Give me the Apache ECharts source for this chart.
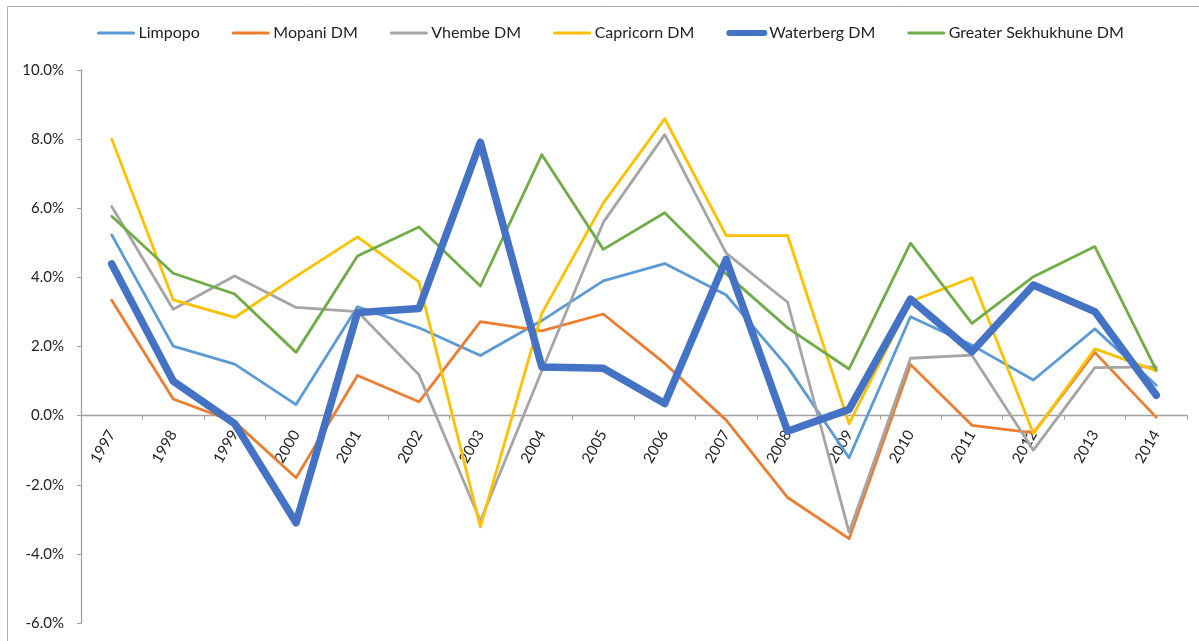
<!DOCTYPE html>
<html>
<head>
<meta charset="utf-8">
<script src="https://cdn.jsdelivr.net/npm/echarts@6/dist/echarts.min.js"></script>
<style>
  html, body { margin: 0; padding: 0; background: #fff; }
  #chartBox { width: 1199px; height: 641px; }
</style>
</head>
<body>
<div id="chartBox"></div>
<script>
// years on the x axis
const years = ['1997', '1998', '1999', '2000', '2001', '2002', '2003', '2004', '2005',
  '2006', '2007', '2008', '2009', '2010', '2011', '2012', '2013', '2014'];

// growth rates, in percent
const limpopo =    [5.23, 2.01, 1.49, 0.32, 3.15, 2.54, 1.74, 2.75, 3.90, 4.40, 3.49, 1.41, -1.22, 2.86, 2.04, 1.03, 2.51, 0.88];
const mopani =     [3.34, 0.48, -0.18, -1.80, 1.16, 0.40, 2.72, 2.45, 2.94, 1.51, -0.13, -2.37, -3.56, 1.48, -0.28, -0.50, 1.83, -0.05];
const vhembe =     [6.05, 3.08, 4.04, 3.13, 3.01, 1.18, -3.05, 1.30, 5.59, 8.13, 4.70, 3.28, -3.37, 1.66, 1.75, -1.00, 1.39, 1.41];
const capricorn =  [8.00, 3.35, 2.84, 4.03, 5.17, 3.87, -3.22, 2.96, 6.15, 8.59, 5.21, 5.21, -0.23, 3.30, 3.99, -0.52, 1.93, 1.30];
const waterberg =  [4.39, 1.00, -0.23, -3.10, 2.98, 3.10, 7.91, 1.41, 1.37, 0.35, 4.52, -0.45, 0.18, 3.37, 1.85, 3.78, 3.01, 0.59];
const sekhukhune = [5.77, 4.12, 3.52, 1.83, 4.62, 5.46, 3.75, 7.55, 4.81, 5.87, 4.10, 2.54, 1.35, 4.99, 2.67, 4.02, 4.89, 1.32];

const seriesNames = ['Limpopo', 'Mopani DM', 'Vhembe DM', 'Capricorn DM', 'Waterberg DM', 'Greater Sekhukhune DM'];
const seriesData = [limpopo, mopani, vhembe, capricorn, waterberg, sekhukhune];
const colors = ['#5B9BD5', '#ED7D31', '#A5A5A5', '#FFC000', '#4472C4', '#70AD47'];
const widths = [2.8, 2.8, 2.8, 2.8, 7.5, 2.8];

const yMin = -6, yMax = 10;
const gridTop = 70, gridBottom = 18, chartH = 641;
// move the category axis up to the 0% line
const plotH = chartH - gridTop - gridBottom;
const zeroOffset = plotH * (0 - yMin) / (yMax - yMin);

const fontName = 'Lato, "Liberation Sans", sans-serif';

var myChart = echarts.init(document.getElementById('chartBox'));

myChart.setOption({
  animation: false,
  color: colors,
  // chart area border, like the Excel frame
  graphic: [{
    type: 'rect',
    shape: { x: 7.5, y: 6.5, width: 1300, height: 800 },
    style: { fill: 'none', stroke: '#B0B0B0', lineWidth: 1 },
    silent: true
  }],
  legend: {
    top: 20,
    left: 92,
    itemWidth: 35,
    itemHeight: 14,
    itemGap: 32,
    itemStyle: { opacity: 0 },
    textStyle: { fontFamily: fontName, fontSize: 16, color: '#222' },
    data: seriesNames.map(function (name, i) {
      return { name: name, lineStyle: { width: i === 4 ? 6 : 3, cap: 'round' } };
    })
  },
  grid: {
    left: 81,
    right: 12,
    top: gridTop,
    bottom: gridBottom
  },
  xAxis: {
    type: 'category',
    data: years,
    boundaryGap: true,
    offset: -zeroOffset,
    z: 0,
    axisLine: { onZero: false, lineStyle: { color: '#A0A0A0', width: 1.3 } },
    axisTick: { show: true, length: 4, lineStyle: { color: '#A0A0A0' } },
    axisLabel: {
      rotate: 60,
      margin: 16,
      interval: 0,
      fontFamily: fontName,
      fontSize: 15,
      color: '#222'
    },
    splitLine: { show: false }
  },
  yAxis: {
    type: 'value',
    min: yMin,
    max: yMax,
    interval: 2,
    axisLine: { show: true, lineStyle: { color: '#A0A0A0', width: 1.3 } },
    axisTick: { show: true, length: 4, lineStyle: { color: '#A0A0A0' } },
    axisLabel: {
      margin: 17,
      fontFamily: fontName,
      fontSize: 15,
      color: '#222',
      formatter: function (v) { return v.toFixed(1) + '%'; }
    },
    splitLine: { show: false }
  },
  series: seriesNames.map(function (name, i) {
    return {
      name: name,
      type: 'line',
      data: seriesData[i],
      symbol: 'none',
      z: i === 4 ? 6 : 5,
      lineStyle: { width: widths[i], color: colors[i], cap: 'round', join: 'round' },
      itemStyle: { color: colors[i] }
    };
  })
});
</script>
</body>
</html>
